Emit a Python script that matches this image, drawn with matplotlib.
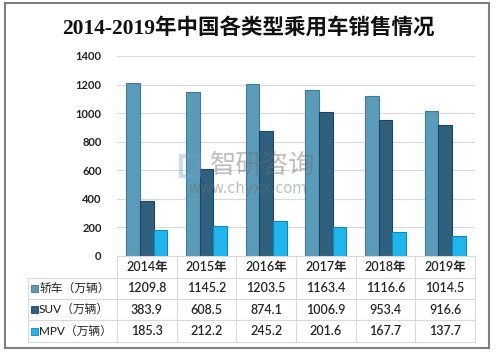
import matplotlib.pyplot as plt
import matplotlib.patches as mpatches
import matplotlib.transforms as mtransforms
import numpy as np

years = ["2014年", "2015年", "2016年", "2017年", "2018年", "2019年"]
series_names = ["轿车（万辆）", "SUV（万辆）", "MPV（万辆）"]
sedan = [1209.8, 1145.2, 1203.5, 1163.4, 1116.6, 1014.5]
suv = [383.9, 608.5, 874.1, 1006.9, 953.4, 916.6]
mpv = [185.3, 212.2, 245.2, 201.6, 167.7, 137.7]
colors = ["#5b9bba", "#2f607e", "#1fb5ee"]
edges = ["#3f7a96", "#1c4560", "#1188bb"]

plt.rcParams['font.family'] = ['Lato', 'Noto Sans CJK SC', 'DejaVu Sans']

W, H = 496, 352


def fx(px):
    return px / W


def fy(py):
    return 1 - py / H


fig = plt.figure(figsize=(W / 100, H / 100), dpi=100)

# outer frame
fig.patches.append(mpatches.Rectangle((fx(5), fy(348)), 484 / W, 345 / H,
                                      transform=fig.transFigure, fill=False,
                                      edgecolor="#7f7f7f", linewidth=1.5))

fig.text(0.5, fy(28), "2014-2019年中国各类型乘用车销售情况",
         ha="center", va="center", fontsize=15.5, fontweight="bold",
         family=['Liberation Serif', 'Noto Sans CJK SC'], color="#111111")

x0, x1, y0, y1 = 117, 475, 56, 256
ax = fig.add_axes([fx(x0), fy(y1), (x1 - x0) / W, (y1 - y0) / H])

x = np.arange(len(years))
w = 0.23
for i, vals in enumerate([sedan, suv, mpv]):
    ax.bar(x + (i - 1) * w, vals, w, color=colors[i], edgecolor=edges[i],
           linewidth=0.8, zorder=3)

ax.set_xlim(-0.5, len(years) - 0.5)
ax.set_ylim(0, 1400)
ax.set_yticks(range(0, 1401, 200))
ax.yaxis.grid(True, color="#d9d9d9", linewidth=0.8, zorder=0)
ax.set_xticks([])
ax.tick_params(axis="y", length=0, labelsize=8, pad=11, labelcolor="#222222")
for lbl in ax.get_yticklabels():
    lbl.set_fontweight("bold")
for s in ax.spines.values():
    s.set_visible(False)

# watermark
fig.patches.append(mpatches.Rectangle((fx(181), fy(176)), 18 / W, 20 / H,
                                      transform=fig.transFigure, fill=False,
                                      edgecolor="#7a9cc0", linewidth=3, alpha=0.35))
fig.text(fx(263), fy(165), "智研咨询", ha="center", va="center", fontsize=19,
         color="#707070", alpha=0.45, family=['Noto Sans CJK SC'])
fig.text(fx(248), fy(188), "www.chyxx.com", ha="center", va="center", fontsize=10.5,
         color="#707070", alpha=0.45, family=['DejaVu Sans'])

# data table, drawn by hand below the axes
trans = mtransforms.blended_transform_factory(ax.transData, fig.transFigure)
grid_kw = dict(color="#d9d9d9", linewidth=0.8, clip_on=False)
row_y = [256, 278, 299, 320, 342]
left = 28
bounds = np.arange(len(years) + 1) - 0.5

# horizontal rules
fig.add_artist(plt.Line2D([fx(x0), fx(x1)], [fy(256)] * 2, transform=fig.transFigure, **grid_kw))
for ry in row_y[1:]:
    fig.add_artist(plt.Line2D([fx(left), fx(x1)], [fy(ry)] * 2, transform=fig.transFigure, **grid_kw))
# vertical rules
fig.add_artist(plt.Line2D([fx(left)] * 2, [fy(278), fy(342)], transform=fig.transFigure, **grid_kw))
for b in bounds:
    ax.add_line(plt.Line2D([b, b], [fy(256), fy(342)], transform=trans, **grid_kw))

txt_kw = dict(fontsize=9, color="#262626", ha="center", va="center",
              fontweight="semibold", transform=trans)
for j, yr in enumerate(years):
    ax.text(x[j], fy((row_y[0] + row_y[1]) / 2), yr, **txt_kw)
for i, vals in enumerate([sedan, suv, mpv]):
    yc = (row_y[i + 1] + row_y[i + 2]) / 2
    for j, v in enumerate(vals):
        ax.text(x[j], fy(yc), f"{v:.1f}", **txt_kw)
    fig.patches.append(mpatches.Rectangle((fx(31), fy(yc + 3.5)), 7 / W, 7 / H,
                                          transform=fig.transFigure,
                                          facecolor=colors[i], edgecolor=edges[i],
                                          linewidth=0.6))
    fig.text(fx(39), fy(yc), series_names[i], ha="left", va="center",
             fontsize=8.5, color="#262626", fontweight="medium")

fig.savefig("out.png", dpi=100)
